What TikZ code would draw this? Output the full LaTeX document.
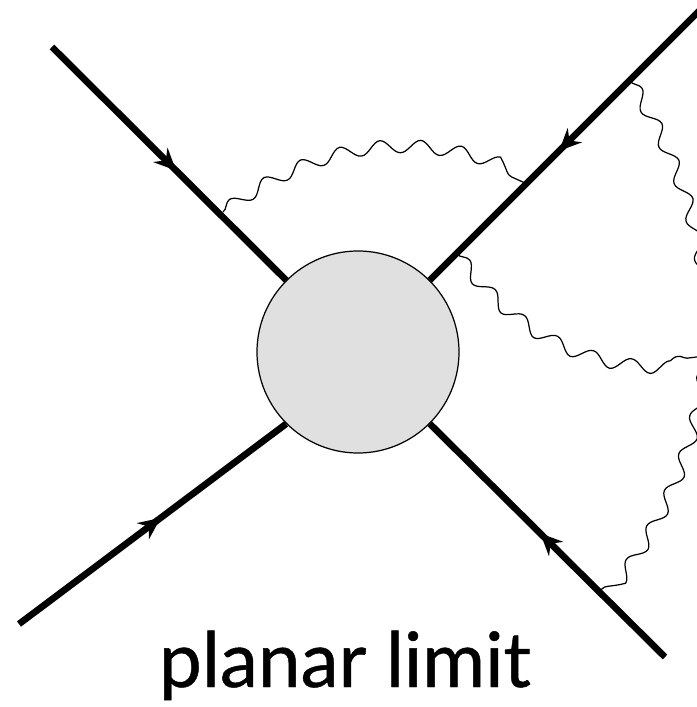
\documentclass[tikz,border=0pt]{standalone}
\usepackage{fontspec}
\setmainfont{Lato}
\newfontfamily\capfont[FakeBold=0.6]{Lato}
\usetikzlibrary{arrows.meta,decorations.pathmorphing,decorations.markings}

\begin{document}
\begin{tikzpicture}[
blob/.style={circle,draw,line width=0.7pt,fill=black!12,minimum size=4.04cm,inner sep=0pt},
fermion/.style={line width=3.8pt,postaction={decorate},decoration={markings,mark=at position 0.53 with {\arrow{Stealth[length=4.4mm,width=4mm,inset=1.5mm]}}}},
photon/.style={line width=0.7pt,decorate,decoration={snake,segment length=0.8cm,amplitude=0.13cm}},
lbl/.style={font=\capfont\fontsize{43.5}{50}\selectfont}]

\useasboundingbox (-7.16,-7.10) rectangle (6.78,7.04);
\clip (-7.16,-7.10) rectangle (6.78,7.04);

\node[blob] (v) at (0,0) {};

\coordinate (ul) at (-6.12,6.10);
\coordinate (ll) at (-6.78,-5.44);
\coordinate (ur) at (6.94,6.94);
\coordinate (lr) at (6.14,-6.10);

\draw[fermion] (ul) -- (v.135);
\draw[fermion] (ll) -- (v.225);
\draw[fermion] (ur) -- (v.45);
\draw[fermion] (lr) -- (v.315);

% photon feet on the legs
\coordinate (a1) at (-2.70,2.80);
\coordinate (b1) at (3.34,3.38);
\coordinate (b2) at (5.44,5.42);
\coordinate (b3) at (1.98,1.96);
\coordinate (c1) at (4.84,-4.78);
\path (b2) to[bend left=35] coordinate[pos=0.53] (j) (c1);

\draw[photon] (a1) to[bend left=30] (b1);
\draw[photon] (b2) to[bend left=35] (c1);
\draw[photon] (b3) to[bend right=30] (j);

\node[lbl,anchor=base] (cap) at (-0.26,-6.70) {planar limit};

\end{tikzpicture}
\end{document}
